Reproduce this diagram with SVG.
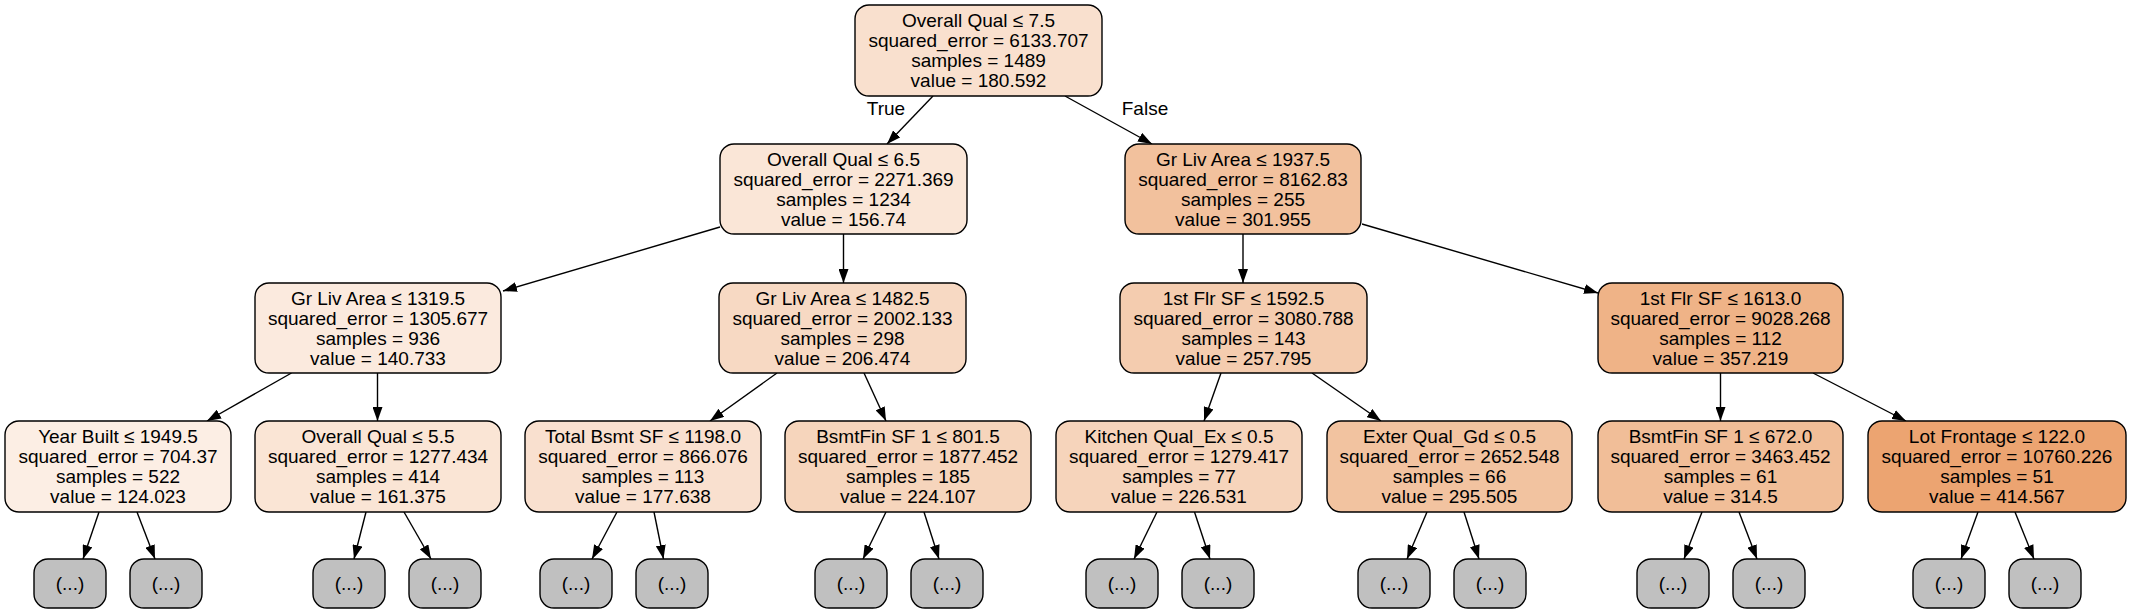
<svg xmlns="http://www.w3.org/2000/svg" width="2131" height="613" viewBox="0 0 2131 613">
<style>
.n{stroke:#000;stroke-width:1.4}
.lf{fill:#c0c0c0;stroke:#000;stroke-width:1.4}
text{font-family:"Liberation Sans",Arial,sans-serif;font-size:19px;fill:#000;text-anchor:middle}
.e{stroke:#000;stroke-width:1.4;fill:none;marker-end:url(#ah)}
</style>
<defs>
<marker id="ah" markerUnits="userSpaceOnUse" markerWidth="14" markerHeight="10" refX="14" refY="5" orient="auto">
<path d="M0,0 L14,5 L0,10 z" fill="#000"/>
</marker>
</defs>
<rect width="2131" height="613" fill="#fff"/>
<g id="edges">
<line class="e" x1="933" y1="96" x2="887" y2="144"/>
<line class="e" x1="1065" y1="96" x2="1152" y2="144"/>
<line class="e" x1="720" y1="227" x2="503" y2="291"/>
<line class="e" x1="843.5" y1="234" x2="843.5" y2="283"/>
<line class="e" x1="1243" y1="234" x2="1243" y2="283"/>
<line class="e" x1="1362" y1="224" x2="1598" y2="293"/>
<line class="e" x1="291.5" y1="373" x2="207" y2="421"/>
<line class="e" x1="377.5" y1="373" x2="377.5" y2="421"/>
<line class="e" x1="777" y1="373" x2="710" y2="421"/>
<line class="e" x1="864" y1="373" x2="886" y2="421"/>
<line class="e" x1="1221" y1="373" x2="1204" y2="421"/>
<line class="e" x1="1312" y1="373" x2="1381" y2="421"/>
<line class="e" x1="1720.5" y1="373" x2="1720.5" y2="421"/>
<line class="e" x1="1813" y1="373" x2="1906" y2="421"/>
<line class="e" x1="99" y1="512" x2="83" y2="559"/>
<line class="e" x1="137" y1="512" x2="155" y2="559"/>
<line class="e" x1="366" y1="512" x2="354" y2="559"/>
<line class="e" x1="404" y1="512" x2="431" y2="559"/>
<line class="e" x1="617" y1="512" x2="592" y2="559"/>
<line class="e" x1="654" y1="512" x2="663.5" y2="559"/>
<line class="e" x1="886" y1="512" x2="863" y2="559"/>
<line class="e" x1="924" y1="512" x2="939" y2="559"/>
<line class="e" x1="1157" y1="512" x2="1134" y2="559"/>
<line class="e" x1="1194.5" y1="512" x2="1210" y2="559"/>
<line class="e" x1="1427" y1="512" x2="1407" y2="559"/>
<line class="e" x1="1464" y1="512" x2="1479" y2="559"/>
<line class="e" x1="1702" y1="512" x2="1684" y2="559"/>
<line class="e" x1="1739" y1="512" x2="1757" y2="559"/>
<line class="e" x1="1978" y1="512" x2="1961" y2="559"/>
<line class="e" x1="2015" y1="512" x2="2034" y2="559"/>
<text x="886" y="115">True</text>
<text x="1145" y="115">False</text>
</g>
<g id="n0"><rect class="n" x="855" y="5" width="247" height="91" rx="14" fill="#f9e0ce"/>
<text x="978.5" y="26.5">Overall Qual ≤ 7.5</text><text x="978.5" y="46.5">squared_error = 6133.707</text><text x="978.5" y="66.5">samples = 1489</text><text x="978.5" y="86.5">value = 180.592</text></g>
<g id="n1"><rect class="n" x="720" y="144" width="247" height="90" rx="14" fill="#fae6d7"/>
<text x="843.5" y="165.5">Overall Qual ≤ 6.5</text><text x="843.5" y="185.5">squared_error = 2271.369</text><text x="843.5" y="205.5">samples = 1234</text><text x="843.5" y="225.5">value = 156.74</text></g>
<g id="n2"><rect class="n" x="1125" y="144" width="236" height="90" rx="14" fill="#f2c19d"/>
<text x="1243" y="165.5">Gr Liv Area ≤ 1937.5</text><text x="1243" y="185.5">squared_error = 8162.83</text><text x="1243" y="205.5">samples = 255</text><text x="1243" y="225.5">value = 301.955</text></g>
<g id="n3"><rect class="n" x="255" y="283" width="246" height="90" rx="14" fill="#fbeade"/>
<text x="378" y="304.5">Gr Liv Area ≤ 1319.5</text><text x="378" y="324.5">squared_error = 1305.677</text><text x="378" y="344.5">samples = 936</text><text x="378" y="364.5">value = 140.733</text></g>
<g id="n4"><rect class="n" x="719" y="283" width="247" height="90" rx="14" fill="#f7d9c3"/>
<text x="842.5" y="304.5">Gr Liv Area ≤ 1482.5</text><text x="842.5" y="324.5">squared_error = 2002.133</text><text x="842.5" y="344.5">samples = 298</text><text x="842.5" y="364.5">value = 206.474</text></g>
<g id="n5"><rect class="n" x="1120" y="283" width="247" height="90" rx="14" fill="#f4ccaf"/>
<text x="1243.5" y="304.5">1st Flr SF ≤ 1592.5</text><text x="1243.5" y="324.5">squared_error = 3080.788</text><text x="1243.5" y="344.5">samples = 143</text><text x="1243.5" y="364.5">value = 257.795</text></g>
<g id="n6"><rect class="n" x="1598" y="283" width="245" height="90" rx="14" fill="#efb387"/>
<text x="1720.5" y="304.5">1st Flr SF ≤ 1613.0</text><text x="1720.5" y="324.5">squared_error = 9028.268</text><text x="1720.5" y="344.5">samples = 112</text><text x="1720.5" y="364.5">value = 357.219</text></g>
<g id="n7"><rect class="n" x="5" y="421" width="226" height="91" rx="14" fill="#fceee4"/>
<text x="118" y="442.5">Year Built ≤ 1949.5</text><text x="118" y="462.5">squared_error = 704.37</text><text x="118" y="482.5">samples = 522</text><text x="118" y="502.5">value = 124.023</text></g>
<g id="n8"><rect class="n" x="255" y="421" width="246" height="91" rx="14" fill="#fae5d5"/>
<text x="378" y="442.5">Overall Qual ≤ 5.5</text><text x="378" y="462.5">squared_error = 1277.434</text><text x="378" y="482.5">samples = 414</text><text x="378" y="502.5">value = 161.375</text></g>
<g id="n9"><rect class="n" x="525" y="421" width="236" height="91" rx="14" fill="#f9e0cf"/>
<text x="643" y="442.5">Total Bsmt SF ≤ 1198.0</text><text x="643" y="462.5">squared_error = 866.076</text><text x="643" y="482.5">samples = 113</text><text x="643" y="502.5">value = 177.638</text></g>
<g id="n10"><rect class="n" x="785" y="421" width="246" height="91" rx="14" fill="#f6d5bc"/>
<text x="908" y="442.5">BsmtFin SF 1 ≤ 801.5</text><text x="908" y="462.5">squared_error = 1877.452</text><text x="908" y="482.5">samples = 185</text><text x="908" y="502.5">value = 224.107</text></g>
<g id="n11"><rect class="n" x="1056" y="421" width="246" height="91" rx="14" fill="#f6d4bb"/>
<text x="1179" y="442.5">Kitchen Qual_Ex ≤ 0.5</text><text x="1179" y="462.5">squared_error = 1279.417</text><text x="1179" y="482.5">samples = 77</text><text x="1179" y="502.5">value = 226.531</text></g>
<g id="n12"><rect class="n" x="1327" y="421" width="245" height="91" rx="14" fill="#f2c3a0"/>
<text x="1449.5" y="442.5">Exter Qual_Gd ≤ 0.5</text><text x="1449.5" y="462.5">squared_error = 2652.548</text><text x="1449.5" y="482.5">samples = 66</text><text x="1449.5" y="502.5">value = 295.505</text></g>
<g id="n13"><rect class="n" x="1598" y="421" width="245" height="91" rx="14" fill="#f1be98"/>
<text x="1720.5" y="442.5">BsmtFin SF 1 ≤ 672.0</text><text x="1720.5" y="462.5">squared_error = 3463.452</text><text x="1720.5" y="482.5">samples = 61</text><text x="1720.5" y="502.5">value = 314.5</text></g>
<g id="n14"><rect class="n" x="1868" y="421" width="258" height="91" rx="14" fill="#eca471"/>
<text x="1997" y="442.5">Lot Frontage ≤ 122.0</text><text x="1997" y="462.5">squared_error = 10760.226</text><text x="1997" y="482.5">samples = 51</text><text x="1997" y="502.5">value = 414.567</text></g>
<g id="l1"><rect class="lf" x="34" y="559" width="72" height="49" rx="14"/><text x="70" y="590">(...)</text></g>
<g id="l2"><rect class="lf" x="130" y="559" width="72" height="49" rx="14"/><text x="166" y="590">(...)</text></g>
<g id="l3"><rect class="lf" x="313" y="559" width="72" height="49" rx="14"/><text x="349" y="590">(...)</text></g>
<g id="l4"><rect class="lf" x="409" y="559" width="72" height="49" rx="14"/><text x="445" y="590">(...)</text></g>
<g id="l5"><rect class="lf" x="540" y="559" width="72" height="49" rx="14"/><text x="576" y="590">(...)</text></g>
<g id="l6"><rect class="lf" x="636" y="559" width="72" height="49" rx="14"/><text x="672" y="590">(...)</text></g>
<g id="l7"><rect class="lf" x="815" y="559" width="72" height="49" rx="14"/><text x="851" y="590">(...)</text></g>
<g id="l8"><rect class="lf" x="911" y="559" width="72" height="49" rx="14"/><text x="947" y="590">(...)</text></g>
<g id="l9"><rect class="lf" x="1086" y="559" width="72" height="49" rx="14"/><text x="1122" y="590">(...)</text></g>
<g id="l10"><rect class="lf" x="1182" y="559" width="72" height="49" rx="14"/><text x="1218" y="590">(...)</text></g>
<g id="l11"><rect class="lf" x="1358" y="559" width="72" height="49" rx="14"/><text x="1394" y="590">(...)</text></g>
<g id="l12"><rect class="lf" x="1454" y="559" width="72" height="49" rx="14"/><text x="1490" y="590">(...)</text></g>
<g id="l13"><rect class="lf" x="1637" y="559" width="72" height="49" rx="14"/><text x="1673" y="590">(...)</text></g>
<g id="l14"><rect class="lf" x="1733" y="559" width="72" height="49" rx="14"/><text x="1769" y="590">(...)</text></g>
<g id="l15"><rect class="lf" x="1913" y="559" width="72" height="49" rx="14"/><text x="1949" y="590">(...)</text></g>
<g id="l16"><rect class="lf" x="2009" y="559" width="72" height="49" rx="14"/><text x="2045" y="590">(...)</text></g>
</svg>
